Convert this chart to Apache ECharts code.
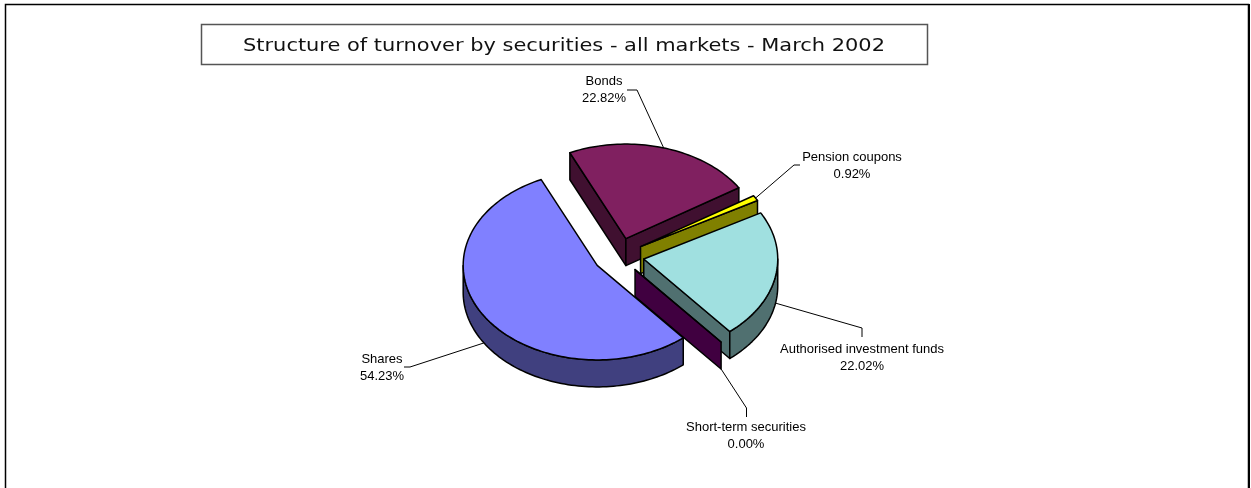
<!DOCTYPE html>
<html>
<head>
<meta charset="utf-8">
<title>Structure of turnover</title>
<script src="https://cdn.jsdelivr.net/npm/echarts@6/dist/echarts.min.js"></script>
<style>
html, body { margin: 0; padding: 0; background: #fff; }
#turnover_pie { width: 1251px; height: 488px; }
</style>
</head>
<body>
<div id="turnover_pie"></div>
<script>
// data, in drawing order (clockwise from the start angle)
var categories = ['Bonds', 'Pension coupons', 'Authorised investment funds', 'Short-term securities', 'Shares'];
var shares = [22.82, 0.92, 22.02, 0.00, 54.23];
var chartTitle = 'Structure of turnover by securities - all markets - March 2002';

// colours of top face / side wall
var topColors = ['#802060', '#FFFF00', '#A0E0E0', '#800080', '#8080FF'];
var wallColors = ['#401030', '#808000', '#507070', '#400040', '#40407F'];

// label centre and leader line bend points
var labelCenters = [[604, 90], [852, 165.5], [862, 358], [746, 436], [382, 368]];
var leaderBends = [[[637, 90], [627, 90]], [[794, 165], [800, 165]], [[862, 328], [862, 337]], [[746.5, 408], [746.5, 417]], [[410, 367], [404, 367]]];

var pie = { x: 618.7, y: 255.8, a: 134, b: 94.5, depth: 27, explode: 0.19, start: 335.3 };
var total = shares.reduce(function (s, v) { return s + v; }, 0);

var rim = function (deg) {
	var r = deg * Math.PI / 180;
	return [Math.sin(r), -Math.cos(r)];
};

// one exploded slice with its walls
var renderSlice = function (params) {
	var i = params.dataIndex;
	var before = 0;
	for (var k = 0; k < i; k++) before += shares[k];
	var from = pie.start + before / total * 360;
	var to = from + shares[i] / total * 360;
	var mid = (from + to) / 2;
	var m = rim(mid);
	var cx = pie.x + m[0] * pie.a * pie.explode;
	var cy = pie.y + m[1] * pie.b * pie.explode;

	var at = function (deg, drop) {
		var p = rim(deg);
		return [cx + p[0] * pie.a, cy + p[1] * pie.b + (drop || 0)];
	};
	var edge = { stroke: '#000', lineWidth: 1.5, lineJoin: 'round' };
	var children = [];
	var addPoly = function (points, fill) {
		children.push({ type: 'polygon', shape: { points: points }, style: Object.assign({ fill: fill }, edge) });
	};
	var addSide = function (deg) {
		addPoly([[cx, cy], at(deg), at(deg, pie.depth), [cx, cy + pie.depth]], wallColors[i]);
	};

	if (Math.sin(from * Math.PI / 180) < 0) addSide(from);
	if (Math.sin(to * Math.PI / 180) > 0) addSide(to);

	// outer wall, only the part turned to the viewer
	[[90, 270], [450, 630]].forEach(function (vis) {
		var a0 = Math.max(from, vis[0]), a1 = Math.min(to, vis[1]);
		if (a1 <= a0) return;
		var upper = [], lower = [];
		for (var d = a0; d < a1; d += 1.5) {
			upper.push(at(d));
			lower.unshift(at(d, pie.depth));
		}
		upper.push(at(a1));
		lower.unshift(at(a1, pie.depth));
		addPoly(upper.concat(lower), wallColors[i]);
	});

	// top face
	var face = [[cx, cy]];
	for (var d = from; d < to; d += 1.5) face.push(at(d));
	face.push(at(to));
	addPoly(face, topColors[i]);

	// leader line, starts on the visible rim at the middle of the slice
	var lower = Math.cos(mid * Math.PI / 180) < 0;
	var line = [at(mid, lower ? pie.depth : 0)].concat(leaderBends[i]);
	children.push({ type: 'polyline', shape: { points: line }, style: { fill: null, stroke: '#000', lineWidth: 1 } });

	children.push({
		type: 'text',
		style: {
			x: labelCenters[i][0], y: labelCenters[i][1],
			text: categories[i] + '\n' + shares[i].toFixed(2) + '%',
			fill: '#000', font: '13px "Liberation Sans"',
			lineHeight: 17, align: 'center', verticalAlign: 'middle'
		}
	});
	return { type: 'group', children: children };
};

var turnover_pie_setting = {
	animation: false,
	backgroundColor: '#fff',
	graphic: [
		{ type: 'rect', shape: { x: 5.5, y: 4.5, width: 1243, height: 500 }, style: { fill: null, stroke: '#000', lineWidth: 1.5 }, silent: true },
		{ type: 'line', shape: { x1: 1249, y1: 4, x2: 1249, y2: 488 }, style: { stroke: '#000', lineWidth: 2 }, silent: true },
		{ type: 'rect', shape: { x: 201.5, y: 24.5, width: 726, height: 40 }, style: { fill: null, stroke: '#555', lineWidth: 1.5 }, silent: true },
		// the original title is drawn wide, so stretch it
		{
			type: 'text', x: 564, y: 46, scaleX: 1.196, silent: true,
			style: { text: chartTitle, fill: '#111', font: '17.5px "DejaVu Sans"', align: 'center', verticalAlign: 'middle' }
		}
	],
	series: [{
		type: 'custom',
		coordinateSystem: 'none',
		data: shares,
		renderItem: renderSlice
	}]
};

var turnover_pie_chart = echarts.init(document.getElementById('turnover_pie'));
turnover_pie_chart.setOption(turnover_pie_setting);
</script>
</body>
</html>
